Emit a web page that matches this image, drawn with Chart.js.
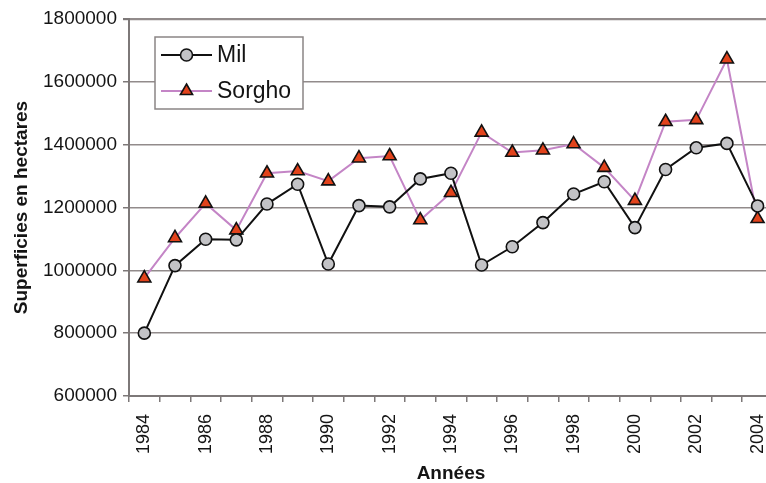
<!DOCTYPE html>
<html lang="fr">
<head>
<meta charset="utf-8">
<title>Superficies Mil et Sorgho 1984-2004</title>
<script src="https://cdn.jsdelivr.net/npm/chart.js@4/dist/chart.umd.min.js"></script>
<style>
  html, body { margin: 0; padding: 0; background: #ffffff; overflow: hidden; }
  #wrap { width: 782px; height: 483px; position: relative; }
</style>
</head>
<body>
<div id="wrap"><canvas id="c"></canvas></div>
<script>
// Années de la série
const years = ['1984','1985','1986','1987','1988','1989','1990','1991','1992','1993','1994',
               '1995','1996','1997','1998','1999','2000','2001','2002','2003','2004'];

// Superficies (hectares)
const milValues = [800000, 1015000, 1099000, 1097000, 1211000, 1274000, 1020000, 1206000, 1202000, 1291000, 1309000,
                   1017000, 1075000, 1152000, 1243000, 1282000, 1136000, 1321000, 1390000, 1404000, 1205000];
const sorghoValues = [975000, 1103000, 1213000, 1128000, 1309000, 1316000, 1284000, 1357000, 1364000, 1160000, 1247000,
                      1439000, 1375000, 1382000, 1402000, 1327000, 1222000, 1473000, 1479000, 1672000, 1164000];

// Bornes de l'axe vertical
const yMin = 600000;
const yMax = 1800000;
const yStep = 200000;

const FONT = "'Liberation Sans', Arial, Helvetica, sans-serif";
const AXIS_COLOR = '#7d7878';
const GRID_COLOR = '#928b8b';
const TEXT_COLOR = '#141414';

// Légende encadrée dessinée dans la zone de tracé
const boxedLegend = {
  id: 'boxedLegend',
  afterDatasetsDraw(chart) {
    const ctx = chart.ctx;
    const bx = 155, by = 37, bw = 148, bh = 72;
    ctx.save();
    ctx.fillStyle = '#ffffff';
    ctx.fillRect(bx, by, bw, bh);
    ctx.strokeStyle = '#8a8585';
    ctx.lineWidth = 1.5;
    ctx.strokeRect(bx, by, bw, bh);
    chart.data.datasets.forEach((ds, i) => {
      const y = by + 18 + i * 36;
      ctx.strokeStyle = ds.borderColor;
      ctx.lineWidth = ds.borderWidth;
      ctx.beginPath();
      ctx.moveTo(bx + 6, y);
      ctx.lineTo(bx + 57, y);
      ctx.stroke();
      ctx.fillStyle = ds.pointBackgroundColor;
      ctx.strokeStyle = ds.pointBorderColor;
      ctx.lineWidth = ds.pointBorderWidth;
      Chart.helpers.drawPoint(ctx, {
        pointStyle: ds.pointStyle,
        radius: ds.pointStyle === 'triangle' ? 7 : 6,
        rotation: 0,
        borderWidth: ds.pointBorderWidth
      }, bx + 31.5, y);
      ctx.fillStyle = TEXT_COLOR;
      ctx.font = '23px ' + FONT;
      ctx.textAlign = 'left';
      ctx.textBaseline = 'middle';
      ctx.fillText(ds.label, bx + 62, y + 1);
    });
    ctx.restore();
  }
};

new Chart(document.getElementById('c'), {
  type: 'line',
  data: {
    labels: years,
    datasets: [
      {
        label: 'Mil',
        data: milValues,
        borderColor: '#111111',
        borderWidth: 2,
        pointStyle: 'circle',
        pointRadius: 6,
        pointBackgroundColor: '#c3c3c6',
        pointBorderColor: '#111111',
        pointBorderWidth: 1.6,
        tension: 0
      },
      {
        label: 'Sorgho',
        data: sorghoValues,
        borderColor: '#c485c6',
        borderWidth: 2,
        pointStyle: 'triangle',
        pointRadius: 7.5,
        pointBackgroundColor: '#e2431c',
        pointBorderColor: '#111111',
        pointBorderWidth: 1.6,
        tension: 0
      }
    ]
  },
  options: {
    responsive: true,
    maintainAspectRatio: false,
    animation: false,
    events: [],
    layout: { padding: { top: 19, right: 4, left: 0, bottom: 0 } },
    plugins: {
      legend: { display: false },
      tooltip: { enabled: false }
    },
    scales: {
      x: {
        type: 'category',
        offset: true,
        border: { display: true, color: AXIS_COLOR, width: 2 },
        grid: {
          display: true,
          offset: true,
          drawOnChartArea: false,
          drawTicks: true,
          tickLength: 6,
          tickColor: AXIS_COLOR,
          lineWidth: 1.5
        },
        ticks: {
          autoSkip: false,
          minRotation: 90,
          maxRotation: 90,
          padding: 12,
          color: TEXT_COLOR,
          font: { family: FONT, size: 18 },
          callback: function (value) {
            const y = this.getLabelForValue(value);
            return Number(y) % 2 === 0 ? y : '';
          }
        },
        title: {
          display: true,
          text: 'Années',
          color: TEXT_COLOR,
          font: { family: FONT, size: 19, weight: 'bold', lineHeight: 1 },
          padding: { top: 0, bottom: 0 }
        },
        afterFit(scale) {
          scale.height = 87;
          scale.paddingLeft = 0;
          scale.paddingRight = 0;
        }
      },
      y: {
        min: yMin,
        max: yMax,
        border: { display: true, color: AXIS_COLOR, width: 2 },
        grid: {
          color: GRID_COLOR,
          lineWidth: (ctx) => (ctx.tick && ctx.tick.value === yMax ? 2.2 : 1.5),
          drawTicks: true,
          tickLength: 6,
          tickColor: AXIS_COLOR
        },
        ticks: {
          stepSize: yStep,
          padding: 6,
          color: TEXT_COLOR,
          font: { family: FONT, size: 19 },
          callback: (v) => String(v)
        },
        title: {
          display: true,
          text: 'Superficies en hectares',
          color: TEXT_COLOR,
          font: { family: FONT, size: 19, weight: 'bold', lineHeight: 1 },
          padding: { top: 12.5, bottom: 0 }
        },
        afterFit(scale) { scale.width = 129; }
      }
    }
  },
  plugins: [boxedLegend]
});
</script>
</body>
</html>
